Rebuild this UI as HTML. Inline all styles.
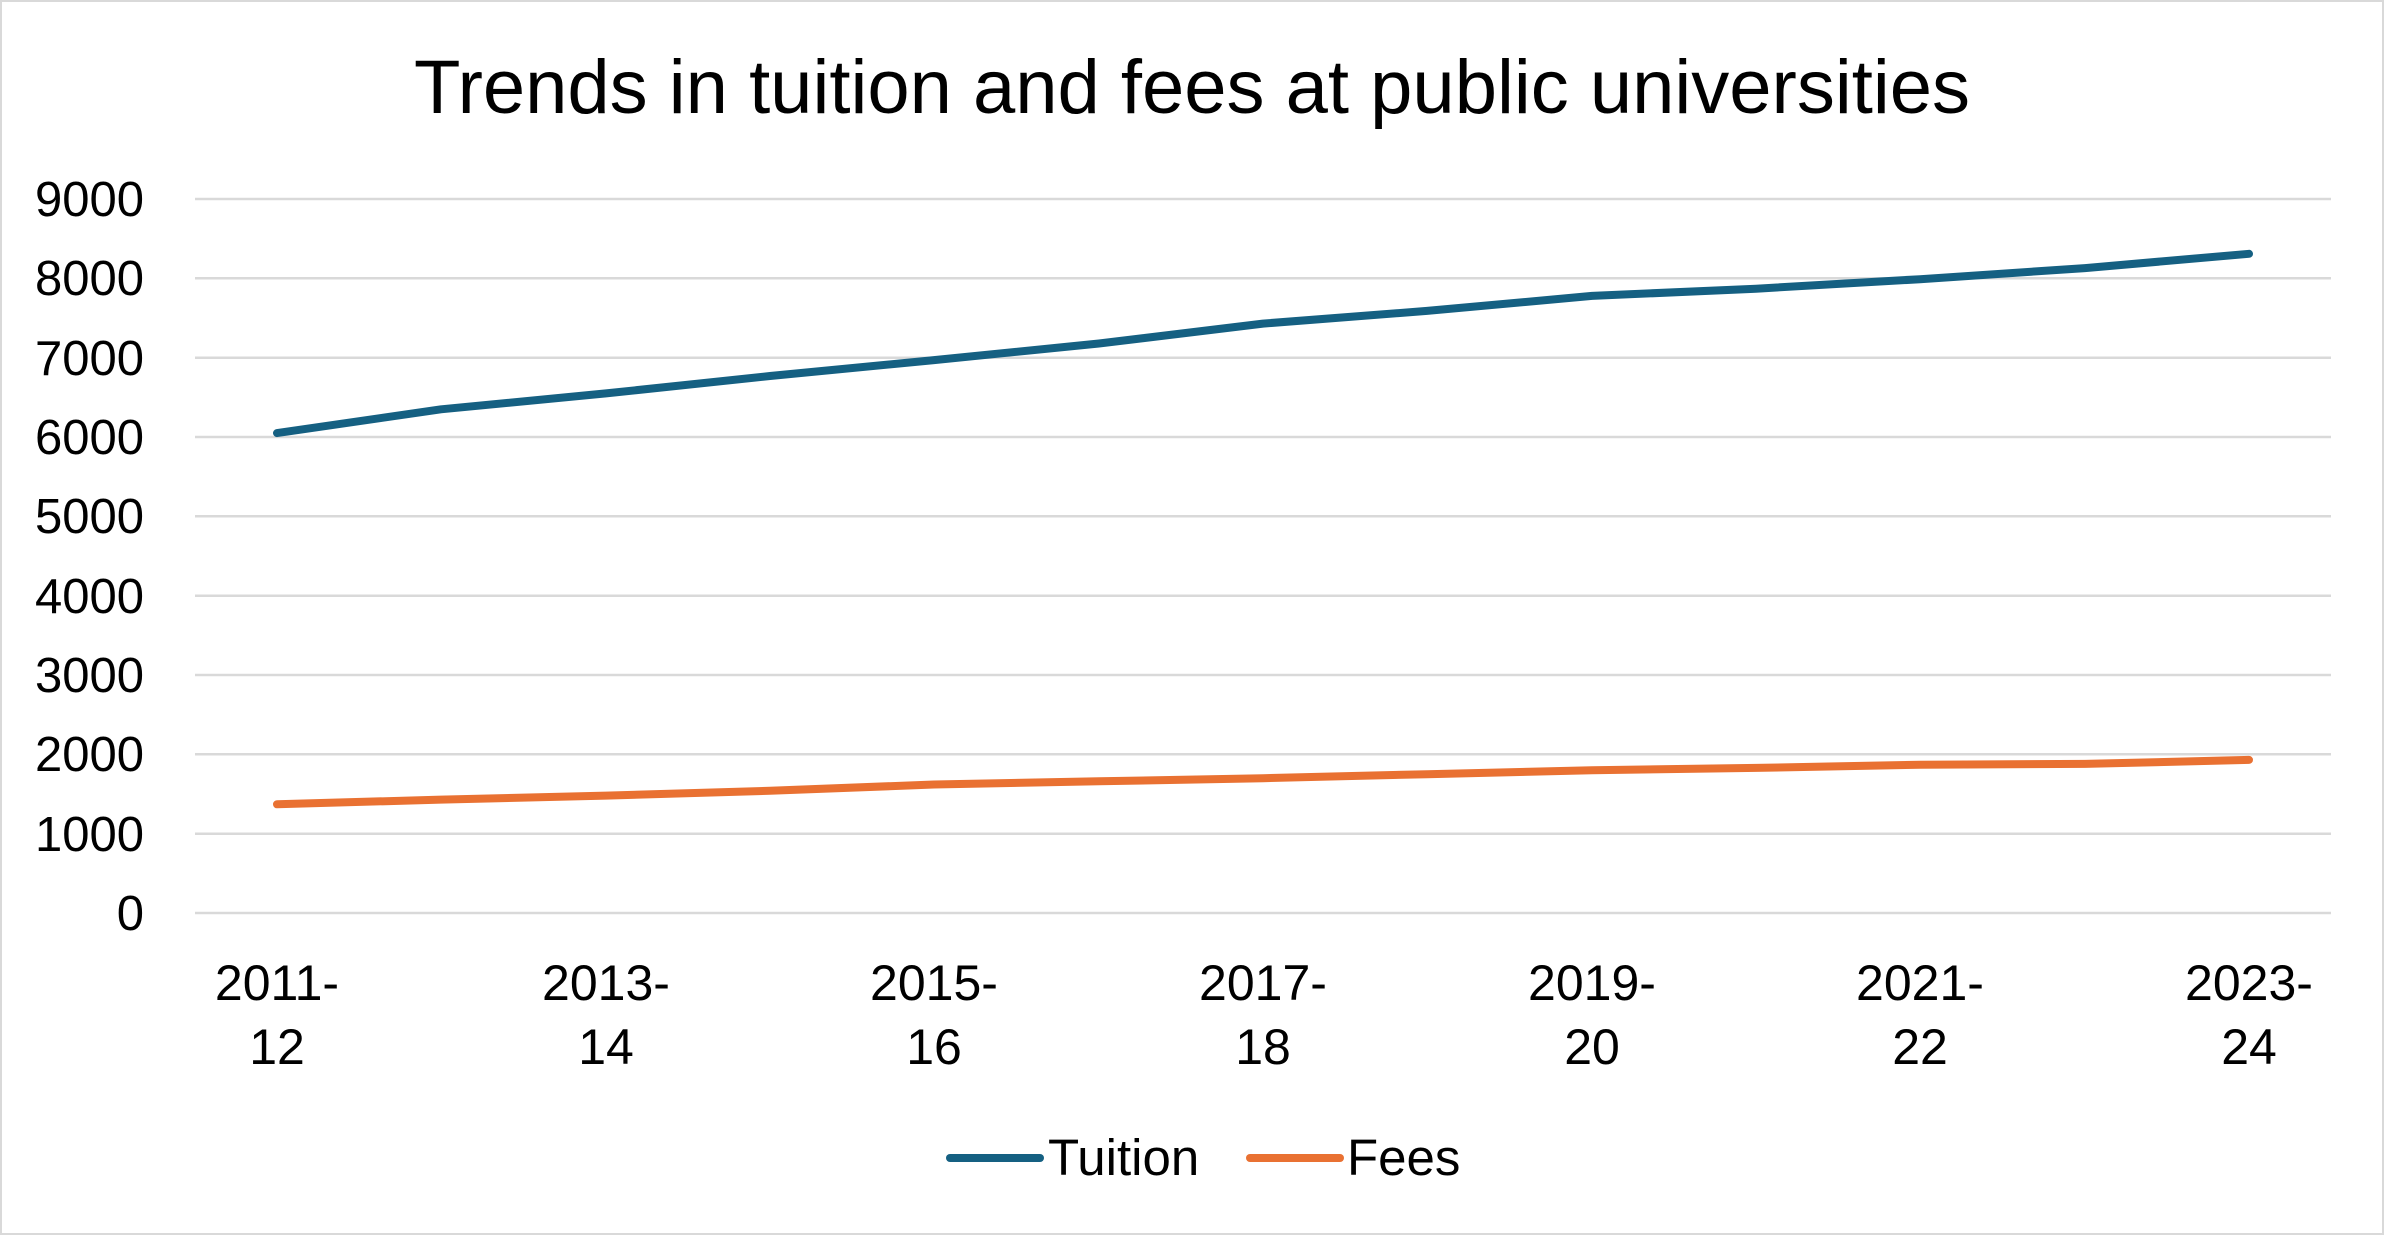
<!DOCTYPE html>
<html><head><meta charset="utf-8"><style>
html,body{margin:0;padding:0;background:#fff}
svg{display:block}
text{font-family:"Liberation Sans",sans-serif;fill:#000}
</style></head><body>
<svg width="2384" height="1235" viewBox="0 0 2384 1235" xmlns="http://www.w3.org/2000/svg">
<rect x="1" y="1" width="2382" height="1233" fill="#fff" stroke="#d9d9d9" stroke-width="2"/>
<text x="1192" y="113" font-size="76" text-anchor="middle">Trends in tuition and fees at public universities</text>
<g stroke="#d9d9d9" stroke-width="2.5">
<line x1="195" x2="2331" y1="199" y2="199"/>
<line x1="195" x2="2331" y1="278.3" y2="278.3"/>
<line x1="195" x2="2331" y1="357.7" y2="357.7"/>
<line x1="195" x2="2331" y1="437" y2="437"/>
<line x1="195" x2="2331" y1="516.3" y2="516.3"/>
<line x1="195" x2="2331" y1="595.7" y2="595.7"/>
<line x1="195" x2="2331" y1="675" y2="675"/>
<line x1="195" x2="2331" y1="754.3" y2="754.3"/>
<line x1="195" x2="2331" y1="833.7" y2="833.7"/>
<line x1="195" x2="2331" y1="913" y2="913"/>
</g>
<g font-size="49" text-anchor="end">
<text x="144" y="216">9000</text>
<text x="144" y="295">8000</text>
<text x="144" y="375">7000</text>
<text x="144" y="454">6000</text>
<text x="144" y="533">5000</text>
<text x="144" y="613">4000</text>
<text x="144" y="692">3000</text>
<text x="144" y="771">2000</text>
<text x="144" y="851">1000</text>
<text x="144" y="930">0</text>
</g>
<g font-size="50" text-anchor="middle">
<text x="277" y="1000">2011-</text><text x="277" y="1064">12</text>
<text x="606" y="1000">2013-</text><text x="606" y="1064">14</text>
<text x="934" y="1000">2015-</text><text x="934" y="1064">16</text>
<text x="1263" y="1000">2017-</text><text x="1263" y="1064">18</text>
<text x="1592" y="1000">2019-</text><text x="1592" y="1064">20</text>
<text x="1920" y="1000">2021-</text><text x="1920" y="1064">22</text>
<text x="2249" y="1000">2023-</text><text x="2249" y="1064">24</text>
</g>
<polyline fill="none" stroke="#156082" stroke-width="8" stroke-linecap="round" stroke-linejoin="round"
points="277,433.1 441,409.3 606,393.4 770,376 934,360.1 1099,343.5 1263,323.6 1427,310.9 1592,295.9 1756,288.7 1920,279.2 2085,268.1 2249,253.8"/>
<polyline fill="none" stroke="#e97132" stroke-width="8" stroke-linecap="round" stroke-linejoin="round"
points="277,804.3 441,799.6 606,795.6 770,790.8 934,784.5 1099,781.3 1263,778.2 1427,774.2 1592,770.2 1756,767.9 1920,764.7 2085,763.9 2249,759.9"/>
<line x1="950" x2="1040" y1="1158" y2="1158" stroke="#156082" stroke-width="8" stroke-linecap="round"/>
<text x="1048" y="1175" font-size="51">Tuition</text>
<line x1="1250" x2="1340" y1="1158" y2="1158" stroke="#e97132" stroke-width="8" stroke-linecap="round"/>
<text x="1347" y="1175" font-size="51">Fees</text>
</svg>
</body></html>
